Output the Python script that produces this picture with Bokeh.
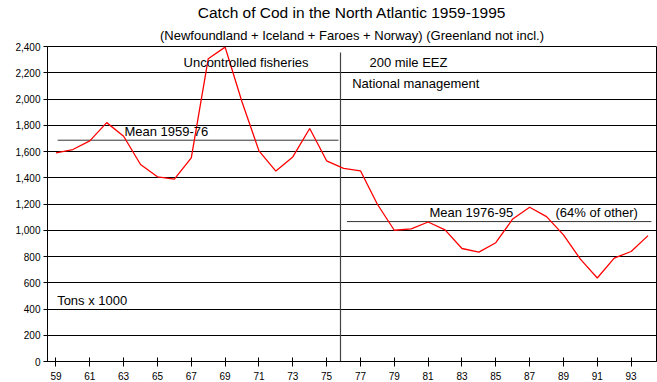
from bokeh.plotting import figure
from bokeh.models import Title, Label, FixedTicker, NumeralTickFormatter, Range1d
from bokeh.embed import file_html
from bokeh.resources import INLINE

# ---------------- data ----------------
title_text = "Catch of Cod in the North Atlantic 1959-1995"
subtitle_text = "(Newfoundland + Iceland + Faroes + Norway) (Greenland not incl.)"

years = [59, 60, 61, 62, 63, 64, 65, 66, 67, 68, 69, 70, 71, 72, 73, 74, 75, 76,
         77, 78, 79, 80, 81, 82, 83, 84, 85, 86, 87, 88, 89, 90, 91, 92, 93, 94]
catch = [1590, 1615, 1681, 1820, 1716, 1501, 1407, 1390, 1552, 2306, 2395, 1977,
         1605, 1451, 1559, 1775, 1529, 1471, 1453, 1198, 1000, 1010, 1063, 1003,
         861, 833, 905, 1086, 1175, 1104, 965, 780, 636, 788, 838, 959]

x_tick_labels = [59, 61, 63, 65, 67, 69, 71, 73, 75, 77, 79, 81, 83, 85, 87, 89, 91, 93]
y_tick_values = [0, 200, 400, 600, 800, 1000, 1200, 1400, 1600, 1800, 2000, 2200, 2400]

mean_early = 1686          # Mean 1959-76
mean_early_span = [59.1, 75.7]
mean_late = 1066           # Mean 1976-95
mean_late_span = [76.2, 94.2]
divider_year = 75.82
divider_top = 2355

FONT = "Liberation Sans"

# ---------------- figure ----------------
p = figure(width=657, height=382,
           x_range=Range1d(58.5, 94.5), y_range=Range1d(0, 2400),
           output_backend="svg", toolbar_location=None, title=None,
           min_border_left=47, min_border_right=1, min_border_top=0,
           min_border_bottom=0)
p.background_fill_color = "white"
p.border_fill_color = "white"
p.outline_line_color = "black"
p.outline_line_width = 1

p.add_layout(Title(text=subtitle_text, align="center", text_font=FONT,
                   text_font_size="13px", text_font_style="normal",
                   text_color="black", standoff=7, offset=0), "above")
p.add_layout(Title(text=title_text, align="center", text_font=FONT,
                   text_font_size="15.5px", text_font_style="normal",
                   text_color="black", standoff=3, offset=0), "above")

# grid
p.xgrid.grid_line_color = None
p.ygrid.ticker = FixedTicker(ticks=y_tick_values)
p.ygrid.grid_line_color = "black"
p.ygrid.grid_line_width = 1

# y axis
p.yaxis.ticker = FixedTicker(ticks=y_tick_values)
p.yaxis.formatter = NumeralTickFormatter(format="0,0")
p.yaxis.major_tick_in = 0
p.yaxis.major_tick_out = 4
p.yaxis.minor_tick_in = 0
p.yaxis.minor_tick_out = 0
p.yaxis.axis_line_color = "black"
p.yaxis.major_tick_line_color = "black"
p.yaxis.major_label_text_font = FONT
p.yaxis.major_label_text_font_size = "10px"
p.yaxis.major_label_text_color = "black"
p.yaxis.major_label_standoff = 3

# x axis
p.xaxis.ticker = FixedTicker(ticks=x_tick_labels)
p.xaxis.major_tick_in = 4
p.xaxis.major_tick_out = 5
p.xaxis.minor_tick_in = 0
p.xaxis.minor_tick_out = 0
p.xaxis.axis_line_color = "black"
p.xaxis.major_tick_line_color = "black"
p.xaxis.major_label_text_font = FONT
p.xaxis.major_label_text_font_size = "10px"
p.xaxis.major_label_text_color = "black"
p.xaxis.major_label_standoff = 5

# divider and means
p.segment(x0=[divider_year], y0=[0], x1=[divider_year], y1=[divider_top],
          line_color="#444444", line_width=1.2)
p.segment(x0=[mean_early_span[0]], y0=[mean_early], x1=[mean_early_span[1]], y1=[mean_early],
          line_color="#333333", line_width=1)
p.segment(x0=[mean_late_span[0]], y0=[mean_late], x1=[mean_late_span[1]], y1=[mean_late],
          line_color="#333333", line_width=1)

# data line
p.line(years, catch, line_color="#ff0000", line_width=1.3)

# annotations
def lab(x, y, t):
    p.add_layout(Label(x=x, y=y, text=t, text_font=FONT, text_font_size="13px",
                       text_color="black", text_align="left", text_baseline="middle"))

lab(66.54, 2278, "Uncontrolled fisheries")
lab(77.53, 2275, "200 mile EEZ")
lab(76.51, 2121, "National management")
lab(63.05, 1751, "Mean 1959-76")
lab(81.08, 1137, "Mean 1976-95")
lab(88.53, 1137, "(64% of other)")
lab(59.07, 463, "Tons x 1000")

open("out.html", "w").write(file_html(p, INLINE))
